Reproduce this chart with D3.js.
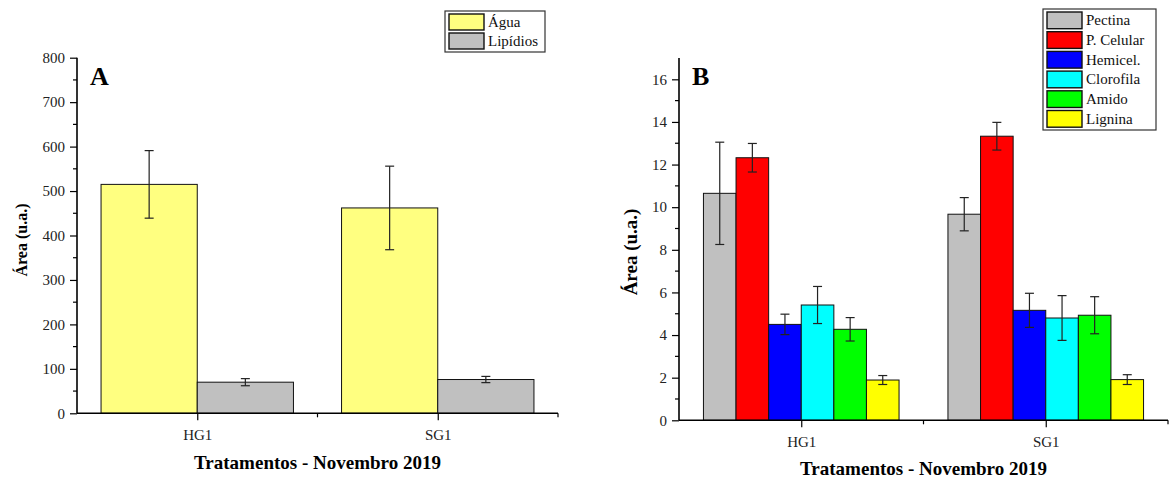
<!DOCTYPE html>
<html>
<head>
<meta charset="utf-8">
<script src="https://cdn.jsdelivr.net/npm/d3@7"></script>
<style>
  html, body { margin: 0; padding: 0; background: #fff; }
  svg { display: block; font-family: "Liberation Serif", "Times New Roman", serif; }
</style>
</head>
<body>
<svg id="chart" width="1173" height="482"></svg>
<script>
// Treatments on the x axis
const categories = ["HG1", "SG1"];

// Panel A: water and lipids
const seriesA = ["Água", "Lipídios"];
const colorsA = ["#FFFF80", "#C0C0C0"];
const aguaValues = [515, 462];
const aguaErrors = [76, 94];
const lipidiosValues = [70, 76];
const lipidiosErrors = [8, 7];
const yTicksA = [0, 100, 200, 300, 400, 500, 600, 700, 800];

// Panel B: cell-wall components
const seriesB = ["Pectina", "P. Celular", "Hemicel.", "Clorofila", "Amido", "Lignina"];
const colorsB = ["#C0C0C0", "#FF0000", "#0000FF", "#00FFFF", "#00FF00", "#FFFF00"];
const pectinaValues = [10.65, 9.67];
const pectinaErrors = [2.4, 0.78];
const celularValues = [12.32, 13.33];
const celularErrors = [0.67, 0.65];
const hemicelValues = [4.5, 5.16];
const hemicelErrors = [0.48, 0.8];
const clorofilaValues = [5.41, 4.8];
const clorofilaErrors = [0.87, 1.05];
const amidoValues = [4.27, 4.93];
const amidoErrors = [0.55, 0.87];
const ligninaValues = [1.89, 1.91];
const ligninaErrors = [0.21, 0.23];
const yTicksB = [0, 2, 4, 6, 8, 10, 12, 14, 16];

const xTitle = "Tratamentos - Novembro 2019";
const yTitle = "Área (u.a.)";

const svg = d3.select("#chart");

function drawPanel(cfg) {
  const g = svg.append("g");
  const x = d3.scaleLinear().domain([0.5, 2.5]).range([cfg.left, cfg.right]);
  const y = d3.scaleLinear().domain(cfg.yDomain).range([cfg.bottom, cfg.top]);
  const nS = cfg.series.length;
  const groupW = 0.8, barW = groupW / nS;

  // bars + error bars
  cfg.series.forEach((name, si) => {
    const vals = cfg.values[si], errs = cfg.errors[si];
    categories.forEach((c, ci) => {
      const x0 = (ci + 1) - groupW / 2 + si * barW;
      g.append("rect")
        .attr("x", x(x0)).attr("width", x(x0 + barW) - x(x0))
        .attr("y", y(vals[ci])).attr("height", y(0) - y(vals[ci]))
        .attr("fill", cfg.colors[si]).attr("stroke", "#111").attr("stroke-width", 1);
    });
  });
  cfg.series.forEach((name, si) => {
    const vals = cfg.values[si], errs = cfg.errors[si];
    categories.forEach((c, ci) => {
      const xc = x((ci + 1) - groupW / 2 + (si + 0.5) * barW);
      const yt = y(vals[ci] + errs[ci]), yb = y(vals[ci] - errs[ci]);
      const e = g.append("g").attr("stroke", "#222").attr("stroke-width", 1.2);
      e.append("line").attr("x1", xc).attr("x2", xc).attr("y1", yt).attr("y2", yb);
      e.append("line").attr("x1", xc - 4.5).attr("x2", xc + 4.5).attr("y1", yt).attr("y2", yt);
      e.append("line").attr("x1", xc - 4.5).attr("x2", xc + 4.5).attr("y1", yb).attr("y2", yb);
    });
  });

  // y axis with major and minor ticks
  const yAxis = d3.axisLeft(y).tickValues(cfg.yTicks).tickSize(7).tickPadding(5)
    .tickFormat(d3.format("d"));
  const ya = g.append("g").attr("transform", `translate(${cfg.left},0)`).call(yAxis);
  const minorY = d3.range(cfg.yDomain[0] + cfg.minorStep, cfg.yDomain[1], cfg.minorStep * 2);
  ya.selectAll(".minor").data(minorY).enter().append("line").attr("class", "minor")
    .attr("x1", -4).attr("x2", 0).attr("y1", d => y(d)).attr("y2", d => y(d))
    .attr("stroke", "#000").attr("stroke-width", 1.2);

  // x axis with category ticks
  const xAxis = d3.axisBottom(x).tickValues([1, 2]).tickSize(7).tickPadding(9)
    .tickFormat((d, i) => categories[i]);
  const xa = g.append("g").attr("transform", `translate(0,${cfg.bottom})`).call(xAxis);
  xa.selectAll(".minor").data([1.5, 2.5]).enter().append("line").attr("class", "minor")
    .attr("x1", d => x(d)).attr("x2", d => x(d)).attr("y1", 0).attr("y2", 4)
    .attr("stroke", "#000").attr("stroke-width", 1.2);

  [ya, xa].forEach(a => {
    a.select(".domain").attr("stroke", "#000").attr("stroke-width", 1.6);
    a.selectAll(".tick line").attr("stroke", "#000").attr("stroke-width", 1.2);
    a.selectAll(".tick text").attr("fill", "#222").style("font-size", "15px")
      .style("font-family", "'Liberation Serif', serif");
  });
  // remove outer tick ends from the axis path so only the line remains
  ya.select(".domain").attr("d", `M0,${cfg.bottom}V${cfg.top}`);
  xa.select(".domain").attr("d", `M${cfg.left},0H${cfg.right}`);

  // panel letter
  g.append("text").attr("x", cfg.left + 13).attr("y", cfg.top + 27)
    .attr("font-weight", "bold").attr("font-size", 26).text(cfg.letter);

  // axis titles
  g.append("text").attr("x", (cfg.left + cfg.right) / 2).attr("y", cfg.xTitleY)
    .attr("text-anchor", "middle").attr("font-weight", "bold").attr("font-size", 19)
    .text(xTitle);
  g.append("text")
    .attr("transform", `translate(${cfg.yTitleX},${cfg.yTitleMid}) rotate(-90)`)
    .attr("text-anchor", "middle").attr("font-weight", "bold").attr("font-size", cfg.yTitleSize)
    .text(yTitle);

  // legend
  const L = cfg.legend;
  const lg = g.append("g");
  lg.append("rect").attr("x", L.x).attr("y", L.y).attr("width", L.w).attr("height", L.h)
    .attr("fill", "#fff").attr("stroke", "#333").attr("stroke-width", 1.2);
  cfg.series.forEach((name, si) => {
    const ry = L.y + 3 + si * L.row;
    lg.append("rect").attr("x", L.x + 4).attr("y", ry).attr("width", 35).attr("height", L.row - 3)
      .attr("fill", cfg.colors[si]).attr("stroke", "#111").attr("stroke-width", 1.4);
    lg.append("text").attr("x", L.x + 43).attr("y", ry + (L.row - 3) / 2 + 5)
      .attr("font-size", 15).attr("fill", "#111").text(name);
  });
}

drawPanel({
  letter: "A",
  left: 77, right: 558, top: 57.7, bottom: 413.3,
  yDomain: [0, 800], yTicks: yTicksA, minorStep: 50,
  series: seriesA, colors: colorsA,
  values: [aguaValues, lipidiosValues], errors: [aguaErrors, lipidiosErrors],
  xTitleY: 469, yTitleX: 27, yTitleMid: 240, yTitleSize: 16,
  legend: { x: 445, y: 11, w: 100, h: 41, row: 19 }
});

drawPanel({
  letter: "B",
  left: 679, right: 1168, top: 58, bottom: 420.3,
  yDomain: [0, 17], yTicks: yTicksB, minorStep: 1,
  series: seriesB, colors: colorsB,
  values: [pectinaValues, celularValues, hemicelValues, clorofilaValues, amidoValues, ligninaValues],
  errors: [pectinaErrors, celularErrors, hemicelErrors, clorofilaErrors, amidoErrors, ligninaErrors],
  xTitleY: 475, yTitleX: 637, yTitleMid: 252, yTitleSize: 19,
  legend: { x: 1043, y: 9, w: 113, h: 121, row: 19.7 }
});
</script>
</body>
</html>
